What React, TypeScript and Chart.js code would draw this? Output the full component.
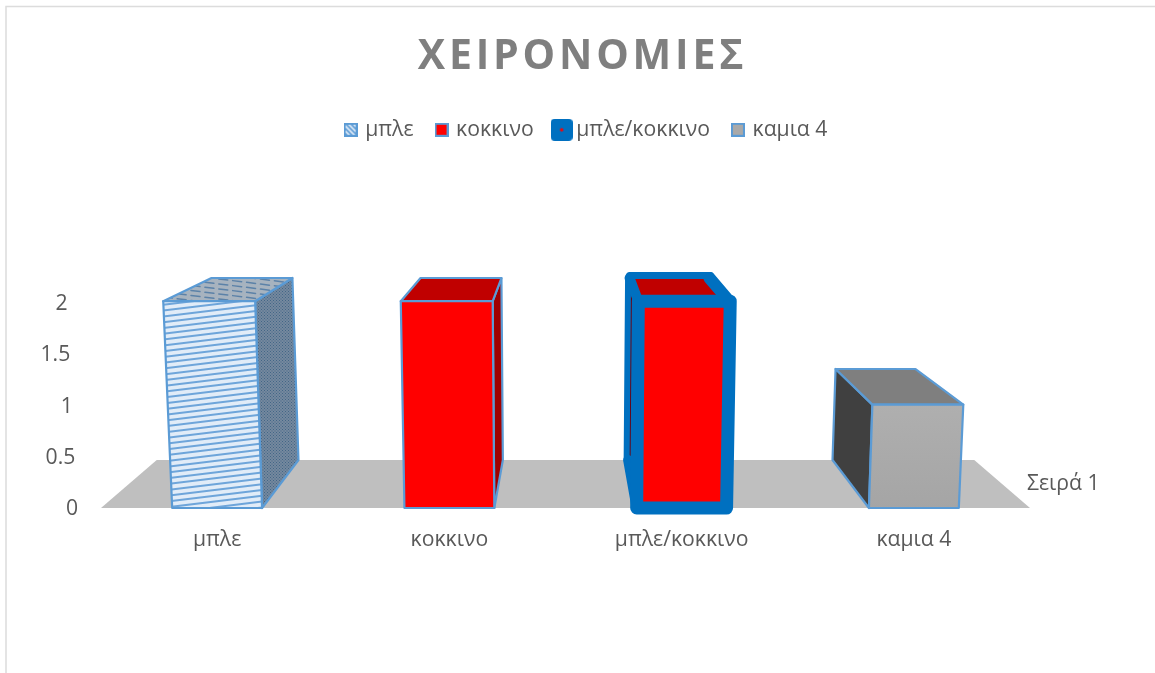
import React, { useEffect, useRef } from "react";
import { Chart, registerables } from "chart.js";

Chart.register(...registerables);

const TITLE = "ΧΕΙΡΟΝΟΜΙΕΣ";
const CATEGORIES = ["μπλε", "κοκκινο", "μπλε/κοκκινο", "καμια 4"];
const SERIES_NAME = "Σειρά 1";
const SERIES_VALUES = [2, 2, 2, 1];
const Y_MIN = 0;
const Y_MAX = 2;
const Y_STEP = 0.5;

const FONT = '"Open Sans", "Noto Sans", sans-serif';
const FONT_SIZE = 21.2;
const TEXT = "#595959";
const EDGE = "#5b9bd5";
const THICK = "#0070c0";

type P = [number, number];

function path(ctx: CanvasRenderingContext2D, pts: P[], close = true) {
  ctx.beginPath();
  pts.forEach((p, i) => (i ? ctx.lineTo(p[0], p[1]) : ctx.moveTo(p[0], p[1])));
  if (close) ctx.closePath();
}

function tile(w: number, h: number, paint: (c: CanvasRenderingContext2D) => void) {
  const c = document.createElement("canvas");
  c.width = w;
  c.height = h;
  paint(c.getContext("2d")!);
  return c;
}

function swatch(size: number, paint: (c: CanvasRenderingContext2D) => void) {
  return tile(size, size, paint);
}

const dottedTile = () =>
  tile(3, 3, (c) => {
    c.fillStyle = "#74899e";
    c.fillRect(0, 0, 3, 3);
    c.fillStyle = "#436587";
    c.fillRect(0, 0, 1, 1);
    c.fillRect(1.5, 1.5, 1, 1);
  });

const legendSwatches = () => [
  swatch(14, (c) => {
    c.fillStyle = "#dbe8f6";
    c.fillRect(0, 0, 14, 14);
    c.strokeStyle = "#5b9bd5";
    c.lineWidth = 1.6;
    for (let i = -14; i < 28; i += 5) {
      c.beginPath();
      c.moveTo(i, 0);
      c.lineTo(i + 14, 14);
      c.stroke();
    }
    c.lineWidth = 2;
    c.strokeRect(1, 1, 12, 12);
  }),
  swatch(14, (c) => {
    c.fillStyle = "#ff0000";
    c.fillRect(0, 0, 14, 14);
    c.strokeStyle = EDGE;
    c.lineWidth = 2;
    c.strokeRect(1, 1, 12, 12);
  }),
  swatch(22, (c) => {
    c.fillStyle = THICK;
    c.beginPath();
    c.roundRect(0, 0, 22, 22, 4);
    c.fill();
    c.fillStyle = "#ff0000";
    c.beginPath();
    c.arc(11, 11, 1.7, 0, Math.PI * 2);
    c.fill();
  }),
  swatch(14, (c) => {
    c.fillStyle = "#a9a9a9";
    c.fillRect(0, 0, 14, 14);
    c.strokeStyle = EDGE;
    c.lineWidth = 2;
    c.strokeRect(1, 1, 12, 12);
  }),
];

// Perspective of the 3-D box chart: everything is derived from the chart scales.
const KEEL = 0.00011;
const DEPTH_SCALE = 0.88;
const DEPTH_RISE = 48;

function projector(chart: any) {
  const a = chart.chartArea;
  const cx = (a.left + a.right) / 2;
  return (x: number, y: number, back: boolean): P => {
    const h = a.bottom - y;
    const k = 1 + KEEL * h;
    const s = back ? DEPTH_SCALE : 1;
    return [cx + (x - cx) * k * s, a.bottom - (back ? DEPTH_RISE : 0) - h * s];
  };
}

const box3d = {
  id: "box3d",
  beforeInit(chart: any) {
    const fit = chart.legend.fit;
    chart.legend.fit = function () {
      fit.call(this);
      this.height = 206;
    };
    const legendDraw = chart.legend.draw;
    chart.legend.draw = function () {
      const c = chart.ctx;
      c.save();
      c.translate(4.5, 0);
      legendDraw.call(this);
      c.restore();
    };
    const draw = chart.titleBlock.draw;
    chart.titleBlock.draw = function () {
      const c = chart.ctx;
      c.save();
      c.letterSpacing = "3.8px";
      draw.call(this);
      c.restore();
    };
  },
  beforeDraw(chart: any) {
    const { ctx } = chart;
    // Chart frame
    ctx.save();
    ctx.strokeStyle = "#dcdcdc";
    ctx.lineWidth = 1.5;
    path(ctx, [[6, 673], [6, 6.5], [1155, 6.5]], false);
    ctx.stroke();
    ctx.restore();

    // Tick labels slant with the floor's perspective
    const yScale = chart.scales.y;
    const items = yScale.getLabelItems(chart.chartArea);
    const right = yScale.right - yScale.options.ticks.padding;
    const bottom = chart.chartArea.bottom;
    items.forEach((it: any, i: number) => {
      const ty = yScale.getPixelForTick(i);
      const h = bottom - ty;
      it.options.translation = [right - h * 0.05, ty + 1 + h * 0.01];
    });
  },
  beforeDatasetsDraw(chart: any) {
    const { ctx } = chart;
    const a = chart.chartArea;
    const pr = projector(chart);
    ctx.save();
    ctx.fillStyle = "#bfbfbf";
    path(ctx, [pr(a.left, a.bottom, false), pr(a.left, a.bottom, true), pr(a.right, a.bottom, true), pr(a.right, a.bottom, false)]);
    ctx.fill();
    ctx.restore();
    ctx.save();
    ctx.fillStyle = TEXT;
    ctx.font = `${FONT_SIZE}px ${FONT}`;
    ctx.textBaseline = "middle";
    ctx.fillText(chart.data.datasets[0].label, a.right - 3, a.bottom - 24);
    ctx.restore();
  },
  afterDatasetsDraw(chart: any) {
    const { ctx } = chart;
    const a = chart.chartArea;
    const cx = (a.left + a.right) / 2;
    const pr = projector(chart);
    const meta = chart.getDatasetMeta(0);
    meta.data.forEach((bar: any, i: number) => {
      const l = bar.x - bar.width / 2;
      const r = bar.x + bar.width / 2;
      const t = bar.y;
      const b = bar.base;
      const sideX = bar.x < cx ? r : l;
      const front: P[] = [pr(l, t, false), pr(r, t, false), pr(r, b, false), pr(l, b, false)];
      const top: P[] = [pr(l, t, false), pr(l, t, true), pr(r, t, true), pr(r, t, false)];
      const side: P[] = [pr(sideX, t, false), pr(sideX, t, true), pr(sideX, b, true), pr(sideX, b, false)];
      ctx.save();
      ctx.lineJoin = "round";
      ctx.lineCap = "round";
      const faces: any[] = [
        [
          { fill: ctx.createPattern(dottedTile(), "repeat"), pts: side },
          { fill: "#a7b3bf", pts: top, hatch: "top" },
          { fill: "#e1ecf8", pts: front, hatch: "front" },
        ],
        [
          { fill: "#a00000", pts: side },
          { fill: "#c00000", pts: top },
          { fill: "#ff0000", pts: front },
        ],
        [
          { fill: "#6a0010", pts: side },
          { fill: "#c00000", pts: top },
          { fill: "#ff0000", pts: front },
        ],
        [
          { fill: "#404040", pts: side },
          { fill: "#7f7f7f", pts: top },
          { fill: null, pts: front },
        ],
      ];
      faces[i].forEach((f: any) => {
        if (f.fill === null) {
          const g = ctx.createLinearGradient(0, f.pts[0][1], 0, f.pts[2][1]);
          g.addColorStop(0, "#afafaf");
          g.addColorStop(1, "#a5a5a5");
          ctx.fillStyle = g;
        } else {
          ctx.fillStyle = f.fill;
        }
        path(ctx, f.pts);
        ctx.fill();
        if (f.hatch) {
          ctx.save();
          path(ctx, f.pts);
          ctx.clip();
          const minX = Math.min(...f.pts.map((p: P) => p[0]));
          const maxX = Math.max(...f.pts.map((p: P) => p[0]));
          const minY = Math.min(...f.pts.map((p: P) => p[1]));
          const maxY = Math.max(...f.pts.map((p: P) => p[1]));
          const isFront = f.hatch === "front";
          ctx.strokeStyle = isFront ? "#6ea5da" : "#5c82a8";
          ctx.lineWidth = isFront ? 2 : 1.5;
          ctx.setLineDash(isFront ? [] : [9, 5]);
          const gap = isFront ? 5.8 : 5;
          const rise = isFront ? 12 : -16;
          for (let y = minY - 20; y < maxY + 20; y += gap) {
            ctx.beginPath();
            ctx.moveTo(minX, y + rise);
            ctx.lineTo(maxX, y);
            ctx.stroke();
          }
          ctx.restore();
        }
        if (i !== 2) {
          ctx.strokeStyle = EDGE;
          ctx.lineWidth = 2.2;
          path(ctx, f.pts);
          ctx.stroke();
        }
      });
      if (i === 2) {
        ctx.strokeStyle = THICK;
        // back edges
        ctx.lineWidth = 7;
        ctx.save();
        ctx.translate(0, -2.5);
        path(ctx, [top[1], top[2]], false);
        ctx.stroke();
        ctx.restore();
        ctx.lineWidth = 6;
        ctx.save();
        ctx.translate(-1.5, 0);
        path(ctx, [side[1], side[2]], false);
        ctx.stroke();
        ctx.restore();
        // receding edges
        ctx.lineWidth = 10;
        path(ctx, [top[0], top[1]], false);
        ctx.stroke();
        path(ctx, [side[3], side[2]], false);
        ctx.stroke();
        ctx.lineWidth = 12;
        ctx.save();
        ctx.translate(-1, 0);
        path(ctx, [top[3], top[2]], false);
        ctx.stroke();
        ctx.restore();
        // front frame
        ctx.lineWidth = 13;
        path(ctx, front);
        ctx.stroke();
      }
      ctx.restore();
    });
  },
};

export default function App() {
  const ref = useRef<HTMLCanvasElement | null>(null);
  useEffect(() => {
    const swatches = legendSwatches();
    const chart = new Chart(ref.current!, {
      type: "bar",
      plugins: [box3d as any],
      data: {
        labels: CATEGORIES,
        datasets: [
          {
            label: SERIES_NAME,
            data: SERIES_VALUES,
            backgroundColor: "rgba(0,0,0,0)",
            borderWidth: 0,
            categoryPercentage: 1,
            barPercentage: 0.387,
          },
        ],
      },
      options: {
        responsive: false,
        animation: false,
        events: [],
        layout: { padding: { left: 10, right: 0, top: 0, bottom: 0 } },
        plugins: {
          tooltip: { enabled: false },
          title: {
            display: true,
            text: TITLE,
            color: "#7f7f7f",
            font: { family: FONT, size: 41, weight: "bold" },
            padding: { top: 33, bottom: 13 },
          },
          legend: {
            display: true,
            position: "top",
            labels: {
              color: TEXT,
              font: { family: FONT, size: FONT_SIZE },
              usePointStyle: true,
              pointStyleWidth: 8,
              padding: 24,
              generateLabels: () =>
                CATEGORIES.map((text, i) => ({
                  text,
                  index: i,
                  pointStyle: swatches[i],
                  fontColor: TEXT,
                  hidden: false,
                  lineWidth: 0,
                })),
            },
          },
        },
        scales: {
          x: {
            grid: { display: false },
            border: { display: false },
            afterFit: (s: any) => {
              s.height = 165;
            },
            ticks: {
              color: TEXT,
              font: { family: FONT, size: FONT_SIZE },
              padding: 11,
              maxRotation: 0,
              autoSkip: false,
            },
          },
          y: {
            min: Y_MIN,
            max: Y_MAX,
            grid: { display: false, drawTicks: false },
            border: { display: false },
            afterFit: (s: any) => {
              s.width = 91;
            },
            ticks: {
              stepSize: Y_STEP,
              color: TEXT,
              font: { family: FONT, size: FONT_SIZE },
              padding: 23,
              callback: (v: any) => String(v),
            },
          },
          depthSpace: {
            type: "linear",
            axis: "y",
            position: "right",
            grid: { display: false, drawTicks: false },
            border: { display: false },
            ticks: { display: false },
            afterFit: (s: any) => {
              s.width = 125;
            },
          },
        },
      } as any,
    });
    return () => chart.destroy();
  }, []);
  return (
    <div style={{ position: "fixed", left: 0, top: 0, width: 1155, height: 673, background: "#fff" }}>
      <canvas ref={ref} width={1155} height={673} style={{ display: "block" }} />
    </div>
  );
}
